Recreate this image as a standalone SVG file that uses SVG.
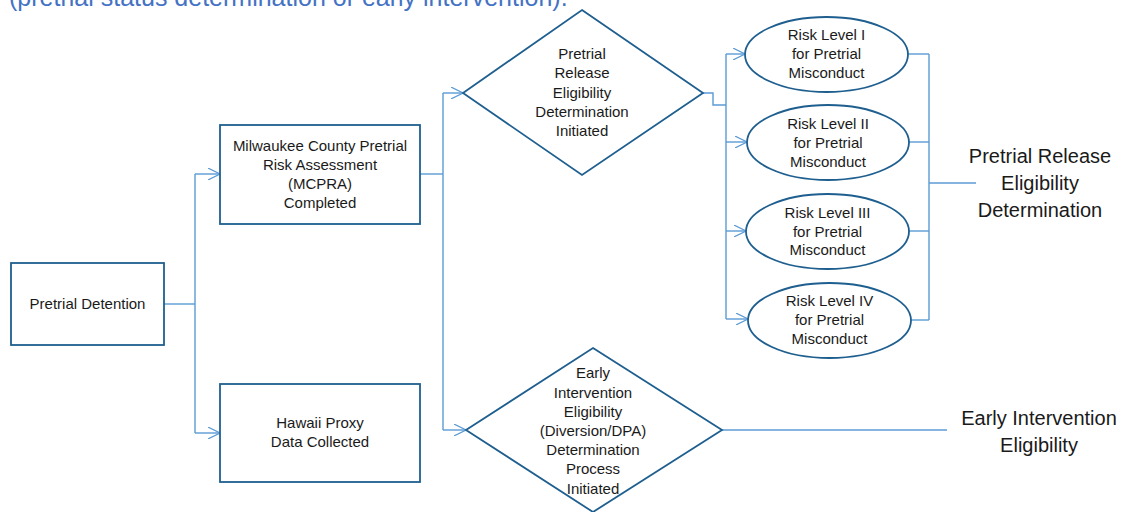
<svg xmlns="http://www.w3.org/2000/svg" width="1126" height="512" viewBox="0 0 1126 512">
<defs>
<marker id="arr" viewBox="0 0 12 12" refX="12" refY="6" markerWidth="12" markerHeight="12" markerUnits="userSpaceOnUse" orient="auto">
<path d="M0,0 L12,6 L0,12" fill="none" stroke="#5B9BD5" stroke-width="1.2"/>
</marker>
<style>
.shape{fill:#fff;stroke:#1F5F8F;stroke-width:1.8}
.con{fill:none;stroke:#5B9BD5;stroke-width:1.4}
.t{font-family:"Liberation Sans",Arial,sans-serif;font-size:15px;fill:#1a1a1a;text-anchor:middle}
.big{font-family:"Liberation Sans",Arial,sans-serif;font-size:20px;fill:#1a1a1a;text-anchor:middle}
.top{font-family:"Liberation Sans",Arial,sans-serif;font-size:25px;fill:#4472C4}
</style>
</defs>
<rect width="1126" height="512" fill="#fff"/>
<text class="top" x="9" y="6">(pretrial status determination or early intervention).</text>

<g id="connectors">
<path class="con" d="M164,304 H195"/>
<path class="con" d="M195,174 V433"/>
<path class="con" d="M195,174 H220" marker-end="url(#arr)"/>
<path class="con" d="M195,433 H220" marker-end="url(#arr)"/>
<path class="con" d="M420,174 H443"/>
<path class="con" d="M443,93 V430"/>
<path class="con" d="M443,93 H463" marker-end="url(#arr)"/>
<path class="con" d="M443,430 H466" marker-end="url(#arr)"/>
<path class="con" d="M703,93 H713 V105 H726"/>
<path class="con" d="M726,54 V319"/>
<path class="con" d="M726,54 H745" marker-end="url(#arr)"/>
<path class="con" d="M726,142 H747" marker-end="url(#arr)"/>
<path class="con" d="M726,231 H746" marker-end="url(#arr)"/>
<path class="con" d="M726,319 H748" marker-end="url(#arr)"/>
<path class="con" d="M908,54 H929"/>
<path class="con" d="M909,142 H929"/>
<path class="con" d="M909,231 H929"/>
<path class="con" d="M911,320 H929"/>
<path class="con" d="M929,54 V320"/>
<path class="con" d="M929,183 H976"/>
<path class="con" d="M722,430 H947"/>
</g>

<g id="pretrial-detention">
<rect class="shape" x="11" y="263" width="153" height="82"/>
<text class="t" x="87.5" y="309">Pretrial Detention</text>
</g>

<g id="mcpra">
<rect class="shape" x="220" y="125" width="200" height="99"/>
<text class="t" x="320" y="151">Milwaukee County Pretrial</text>
<text class="t" x="320" y="170">Risk Assessment</text>
<text class="t" x="320" y="189">(MCPRA)</text>
<text class="t" x="320" y="208">Completed</text>
</g>

<g id="hawaii">
<rect class="shape" x="220" y="384" width="200" height="98"/>
<text class="t" x="320" y="428">Hawaii Proxy</text>
<text class="t" x="320" y="447">Data Collected</text>
</g>

<g id="release-diamond">
<polygon class="shape" points="582,10 703,93 582,175 463,93"/>
<text class="t" x="582" y="59">Pretrial</text>
<text class="t" x="582" y="78">Release</text>
<text class="t" x="582" y="98">Eligibility</text>
<text class="t" x="582" y="117">Determination</text>
<text class="t" x="582" y="136">Initiated</text>
</g>

<g id="early-diamond">
<polygon class="shape" points="593,348 722,430 593,512 466,430"/>
<text class="t" x="593" y="378">Early</text>
<text class="t" x="593" y="398">Intervention</text>
<text class="t" x="593" y="417">Eligibility</text>
<text class="t" x="593" y="436">(Diversion/DPA)</text>
<text class="t" x="593" y="455">Determination</text>
<text class="t" x="593" y="474">Process</text>
<text class="t" x="593" y="494">Initiated</text>
</g>

<g id="risk-1">
<ellipse class="shape" cx="826.5" cy="54.5" rx="81.5" ry="37.5"/>
<text class="t" x="826.5" y="40">Risk Level I</text>
<text class="t" x="826.5" y="59">for Pretrial</text>
<text class="t" x="826.5" y="78">Misconduct</text>
</g>

<g id="risk-2">
<ellipse class="shape" cx="828" cy="142.5" rx="81" ry="37.5"/>
<text class="t" x="828" y="129">Risk Level II</text>
<text class="t" x="828" y="148">for Pretrial</text>
<text class="t" x="828" y="167">Misconduct</text>
</g>

<g id="risk-3">
<ellipse class="shape" cx="827.5" cy="231.5" rx="81.5" ry="37.5"/>
<text class="t" x="827.5" y="218">Risk Level III</text>
<text class="t" x="827.5" y="237">for Pretrial</text>
<text class="t" x="827.5" y="255">Misconduct</text>
</g>

<g id="risk-4">
<ellipse class="shape" cx="829.5" cy="320.5" rx="81.5" ry="37.5"/>
<text class="t" x="829.5" y="306">Risk Level IV</text>
<text class="t" x="829.5" y="325">for Pretrial</text>
<text class="t" x="829.5" y="344">Misconduct</text>
</g>

<g id="release-label">
<text class="big" x="1040" y="163">Pretrial Release</text>
<text class="big" x="1040" y="190">Eligibility</text>
<text class="big" x="1040" y="217">Determination</text>
</g>

<g id="early-label">
<text class="big" x="1039" y="425">Early Intervention</text>
<text class="big" x="1039" y="452">Eligibility</text>
</g>
</svg>
